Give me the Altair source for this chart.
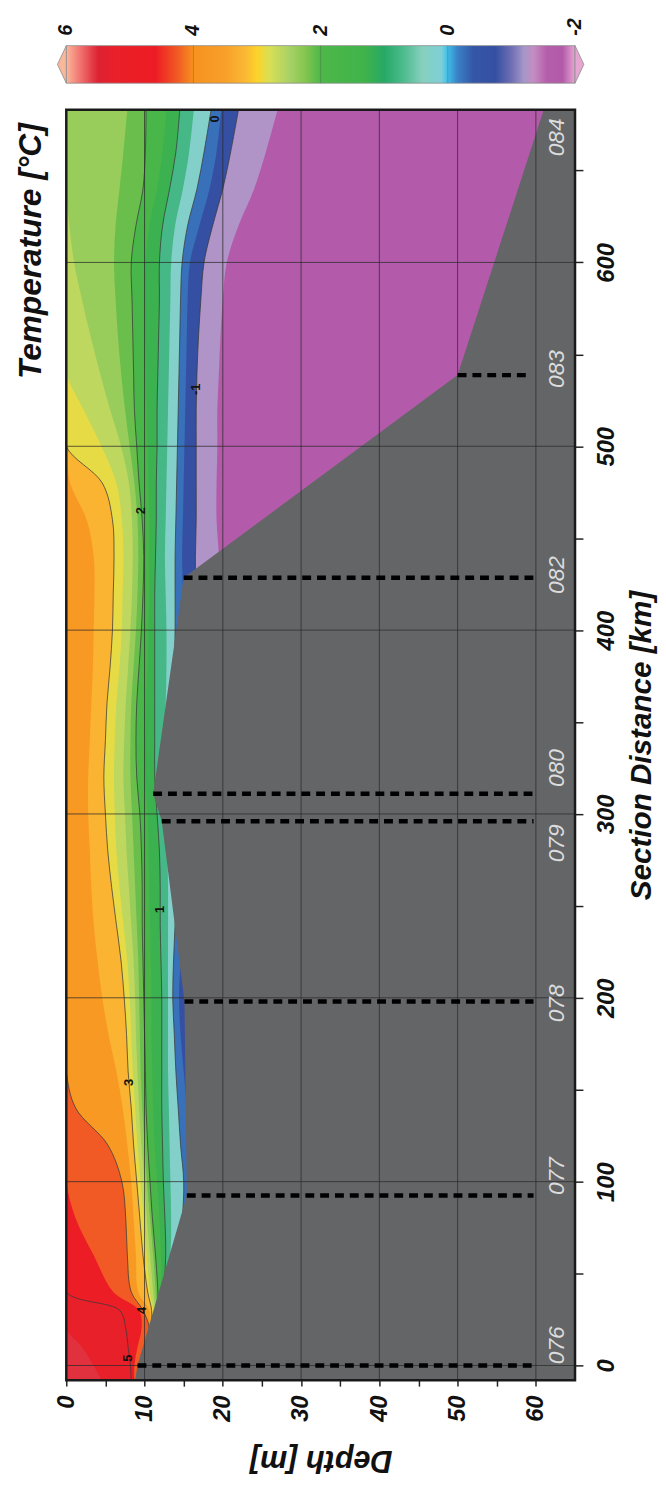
import altair as alt
import pandas as pd

FONT = "Liberation Sans"

# ---------------- axes / domains ----------------
DEPTH_DOMAIN = [0, 65]
DIST_DOMAIN = [-8, 683]
DEPTH_TICKS = [0, 5, 10, 15, 20, 25, 30, 35, 40, 45, 50, 55, 60]
DIST_TICKS = [0, 50, 100, 150, 200, 250, 300, 350, 400, 450, 500, 550, 600, 650]
GRID_DEPTHS = [10, 20, 30, 40, 50, 60]
GRID_DISTS = [0, 100, 200, 300, 400, 500, 600]

# ---------------- temperature field: isotherm depths [m] along the section ----------------
DIST = [-8, 0, 10, 20, 30, 40, 60, 80, 100, 120,
        140, 160, 180, 200, 220, 240, 260, 280, 300, 320,
        340, 360, 380, 400, 420, 440, 460, 480, 500, 520,
        540, 560, 580, 600, 620, 640, 660, 683]

ISO_550 = [4.5, 3.5, 2.0, 0, 0, 0, 0, 0, 0, 0,
           0, 0, 0, 0, 0, 0, 0, 0, 0, 0,
           0, 0, 0, 0, 0, 0, 0, 0, 0, 0,
           0, 0, 0, 0, 0, 0, 0, 0]
ISO_500 = [8.3, 8.2, 7.9, 7.6, 6.8, 0, 0, 0, 0, 0,
           0, 0, 0, 0, 0, 0, 0, 0, 0, 0,
           0, 0, 0, 0, 0, 0, 0, 0, 0, 0,
           0, 0, 0, 0, 0, 0, 0, 0]
ISO_450 = [8.7, 8.7, 9.1, 9.6, 9.3, 6.0, 3.5, 1.2, 0, 0,
           0, 0, 0, 0, 0, 0, 0, 0, 0, 0,
           0, 0, 0, 0, 0, 0, 0, 0, 0, 0,
           0, 0, 0, 0, 0, 0, 0, 0]
ISO_400 = [9.0, 9.3, 10.0, 10.6, 9.8, 8.3, 7.8, 7.6, 7.1, 5.3,
           1.2, 0, 0, 0, 0, 0, 0, 0, 0, 0,
           0, 0, 0, 0, 0, 0, 0, 0, 0, 0,
           0, 0, 0, 0, 0, 0, 0, 0]
ISO_350 = [9.1, 9.4, 10.1, 10.7, 10.6, 9.2, 8.9, 8.6, 8.3, 7.8,
           7.2, 6.4, 5.4, 4.6, 4.0, 3.5, 3.2, 3.0, 2.8, 2.8,
           3.0, 3.2, 3.4, 3.5, 3.6, 3.5, 2.6, 0.5, 0, 0,
           0, 0, 0, 0, 0, 0, 0, 0]
ISO_300 = [9.2, 9.5, 10.2, 10.8, 10.9, 10.4, 9.8, 9.4, 9.0, 8.6,
           8.3, 7.9, 7.7, 7.4, 7.0, 6.4, 5.8, 5.3, 5.0, 4.8,
           5.0, 5.2, 5.6, 5.9, 6.0, 6.1, 5.9, 4.6, 0, 0,
           0, 0, 0, 0, 0, 0, 0, 0]
ISO_275 = [9.3, 9.6, 10.3, 10.9, 11.1, 10.7, 10.3, 9.9, 9.5, 9.1,
           8.8, 8.5, 8.3, 8.1, 7.8, 7.3, 6.8, 6.4, 6.2, 6.1,
           6.2, 6.4, 6.8, 7.1, 7.2, 7.3, 7.1, 6.4, 4.5, 2.2,
           0, 0, 0, 0, 0, 0, 0, 0]
ISO_250 = [9.4, 9.7, 10.4, 11.0, 11.3, 11.1, 10.7, 10.3, 10.0, 9.6,
           9.3, 9.1, 8.9, 8.8, 8.6, 8.3, 8.0, 7.7, 7.5, 7.3,
           7.4, 7.6, 7.9, 8.2, 8.4, 8.5, 8.4, 8.0, 7.0, 5.6,
           4.3, 3.1, 2.0, 1.0, 0.4, 0, 0, 0]
ISO_225 = [9.5, 9.8, 10.5, 11.1, 11.5, 11.4, 11.1, 10.7, 10.3, 10.0,
           9.7, 9.5, 9.4, 9.3, 9.2, 9.0, 8.8, 8.6, 8.4, 8.2,
           8.2, 8.3, 8.6, 8.9, 9.1, 9.2, 9.1, 8.7, 8.1, 7.5,
           7.0, 6.6, 6.3, 6.1, 6.3, 6.8, 7.3, 7.8]
ISO_200 = [9.6, 9.9, 10.6, 11.2, 11.7, 11.7, 11.4, 11.0, 10.7, 10.4,
           10.2, 10.1, 10.0, 9.9, 9.8, 9.7, 9.7, 9.6, 9.4, 9.0,
           8.9, 9.0, 9.3, 9.6, 9.8, 9.9, 9.7, 9.3, 9.0, 8.7,
           8.6, 8.5, 8.4, 8.3, 8.9, 9.8, 10.1, 10.2]
ISO_150 = [9.7, 10.0, 10.7, 11.3, 11.9, 12.1, 12.1, 11.9, 11.6, 11.3,
           11.1, 11.0, 10.9, 10.9, 10.8, 10.7, 10.6, 10.5, 10.4, 10.1,
           10.1, 10.2, 10.4, 10.5, 10.6, 10.6, 10.6, 10.5, 10.4, 10.3,
           10.2, 10.1, 10.1, 10.1, 10.6, 11.6, 12.3, 12.8]
ISO_100 = [9.8, 10.1, 10.8, 11.4, 12.1, 12.4, 12.7, 12.6, 12.4, 12.3,
           12.2, 12.2, 12.2, 12.2, 12.1, 12.0, 12.0, 11.9, 11.6, 11.3,
           11.3, 11.3, 11.3, 11.3, 11.3, 11.4, 11.5, 11.5, 11.6, 11.6,
           11.7, 11.8, 11.9, 11.9, 12.3, 13.2, 14.0, 14.5]
ISO_050 = [9.9, 10.2, 10.9, 11.5, 12.3, 12.7, 13.3, 13.4, 13.3, 13.2,
           13.1, 13.0, 13.0, 13.0, 13.0, 13.0, 13.0, 12.9, 12.6, 12.3,
           12.5, 12.7, 12.8, 12.8, 12.7, 12.6, 12.7, 12.8, 12.9, 13.0,
           13.1, 13.2, 13.3, 13.4, 13.9, 14.9, 15.7, 16.3]
ISO_000 = [10.0, 10.3, 11.0, 11.6, 12.5, 13.0, 14.0, 14.8, 15.0, 14.6,
           14.3, 14.0, 13.8, 13.6, 13.7, 13.9, 14.0, 14.0, 13.5, 13.0,
           13.3, 13.6, 13.8, 13.9, 13.9, 13.9, 14.0, 14.1, 14.2, 14.3,
           14.4, 14.5, 14.6, 14.8, 15.5, 16.7, 17.6, 18.5]
ISO_M050 = [10.1, 10.4, 11.1, 11.7, 12.7, 13.3, 14.5, 15.5, 16.0, 15.8,
            15.4, 15.0, 14.6, 14.4, 14.6, 14.8, 15.0, 15.0, 14.5, 14.0,
            14.2, 14.5, 14.8, 15.0, 14.9, 14.8, 14.9, 15.0, 15.1, 15.2,
            15.3, 15.4, 15.5, 15.8, 17.0, 18.3, 19.2, 19.8]
ISO_M100 = [11.0, 11.2, 12.0, 12.5, 13.5, 14.5, 16.0, 17.0, 17.5, 17.5,
            17.5, 17.0, 16.5, 16.2, 16.5, 16.5, 16.5, 16.0, 15.5, 15.0,
            15.3, 15.6, 16.0, 16.3, 16.5, 16.5, 16.6, 16.6, 16.6, 16.6,
            16.7, 16.9, 17.2, 17.6, 18.7, 20.0, 21.0, 22.0]
ISO_M150 = [12.0, 12.2, 13.0, 13.5, 14.5, 15.5, 17.0, 18.0, 18.5, 18.5,
            18.5, 18.5, 18.5, 18.5, 18.5, 18.5, 18.0, 17.5, 17.0, 16.5,
            17.0, 17.5, 18.0, 18.5, 19.5, 19.5, 19.2, 19.2, 19.3, 19.3,
            19.5, 19.7, 20.0, 20.5, 22.0, 24.0, 25.5, 27.0]

ISO_LEVELS = [5.5, 5.0, 4.5, 4.0, 3.5, 3.0, 2.75, 2.5, 2.25, 2.0,
              1.5, 1.0, 0.5, 0.0, -0.5, -1.0, -1.5]
ISO_DEPTHS = [ISO_550, ISO_500, ISO_450, ISO_400, ISO_350, ISO_300, ISO_275,
              ISO_250, ISO_225, ISO_200, ISO_150, ISO_100, ISO_050, ISO_000,
              ISO_M050, ISO_M100, ISO_M150]
# temperature of the band lying just below each isotherm
BAND_T = [5.25, 4.75, 4.25, 3.75, 3.25, 2.875, 2.625, 2.375, 2.125, 1.75,
          1.25, 0.75, 0.25, -0.25, -0.75, -1.25, -1.75]
SURFACE_T = 5.55

CONTOUR_LEVELS = [5.0, 4.0, 3.0, 2.0, 1.0, 0.0, -1.0]
CONTOUR_LABELS = ["5", "4", "3", "1", "2", "-1", "0"]
CONTOUR_LABEL_DEPTH = [7.9, 9.7, 8.0, 12.0, 9.6, 16.6, 19.0]
CONTOUR_LABEL_DIST = [4, 30, 154, 248, 465, 531, 678]

# ---------------- bathymetry and stations ----------------
BATHY_DIST = [-8, 0, 92.5, 198, 296, 311, 428.5, 538.7, 683]
BATHY_DEPTH = [8.8, 9.1, 15.4, 15.1, 12.2, 11.1, 15.0, 50.0, 61.0]

ST_LINE_DIST = [0, 92.5, 198, 296, 311, 428.5, 538.7]
ST_LINE_TOP = [9.1, 15.4, 15.1, 12.2, 11.1, 15.0, 50.0]
ST_LINE_END = [59.7, 59.7, 59.7, 59.7, 59.7, 59.7, 59.2]

ST_NAMES = ["076", "077", "078", "079", "080", "082", "083", "084"]
ST_LABEL_DIST = [11, 103, 197, 284, 325, 430, 542, 668]
ST_LABEL_DEPTH = [62.7, 62.7, 62.7, 62.7, 62.7, 62.7, 62.7, 62.7]

# ---------------- colour bar ----------------
CB_TICKS = [6, 4, 2, 0, -2]
CB_TICK_LABELS = ["6", "4", "2", "0", "-2"]
CB_T = [-2.0, -1.8, -1.55, -1.35, -1.2, -1.0, -0.75, -0.4, -0.15, 0.0,
        0.1, 0.4, 0.7, 1.0, 1.3, 2.0, 2.25, 2.5, 2.8, 3.0,
        3.2, 3.5, 4.0, 4.25, 4.6, 5.2, 5.5, 5.75, 6.0]
CB_COLORS = ["#e6a6d2", "#b25aa9", "#b55fac", "#c58cc2", "#a697c9", "#6e6fb4", "#3550a2", "#3456a6", "#3a82c6", "#3dbfeb",
             "#7fcfd8", "#86d0bd", "#4cbb8e", "#26a966", "#3fb34a", "#4db848", "#86c650", "#a9d266", "#d8df55", "#fcd32a",
             "#fbb733", "#f8a02a", "#f7921e", "#f15a24", "#ed1c24", "#ea1f28", "#dd2233", "#ef6a6a", "#fbb79a"]

for arr in ISO_DEPTHS:
    assert len(arr) == len(DIST), len(arr)
assert len(CB_T) == len(CB_COLORS)

PLOT_W, PLOT_H = 515, 1286
# colour bar placement above the plot area (pixels from the plot top)
CB_TOP, CB_BOTTOM, CB_LABEL_GAP = -65, -27, 10

TITLE_STYLE = dict(font=FONT, fontStyle="italic", fontWeight="bold")

x_scale = alt.Scale(domain=DEPTH_DOMAIN, nice=False, zero=False)
y_scale = alt.Scale(domain=DIST_DOMAIN, nice=False, zero=False)
c_scale = alt.Scale(domain=CB_T, range=CB_COLORS, interpolate="rgb")

x_axis = alt.Axis(
    orient="bottom", values=DEPTH_TICKS,
    labelExpr="datum.value % 10 === 0 ? datum.label : ''",
    labelAngle=270, labelAlign="right", labelBaseline="middle", labelPadding=9,
    labelFont=FONT, labelFontSize=24, labelFontStyle="italic", labelFontWeight="bold",
    labelColor="#111111", labelFlush=False, labelOverlap=False, labelBound=False,
    tickSize=6, tickWidth=1.5, tickColor="#222222", domain=False, grid=False,
    title="Depth [m]", titleAngle=180, titleBaseline="bottom", titleY=64,
    titleFont=FONT, titleFontSize=31, titleFontStyle="italic", titleFontWeight="bold",
    titleColor="#111111",
)
y_axis = alt.Axis(
    orient="right", values=DIST_TICKS,
    labelExpr="datum.value % 100 === 0 ? datum.label : ''",
    labelAngle=270, labelAlign="center", labelBaseline="top", labelPadding=12,
    labelFont=FONT, labelFontSize=24, labelFontStyle="italic", labelFontWeight="bold",
    labelColor="#111111", labelFlush=False, labelOverlap=False, labelBound=False,
    tickSize=8, tickWidth=1.5, tickColor="#222222", domain=False, grid=False,
    title="Section Distance [km]", titleAngle=270, titleBaseline="top", titleAlign="center",
    titleX=52, titleY=PLOT_H / 2,
    titleFont=FONT, titleFontSize=30, titleFontStyle="italic", titleFontWeight="bold",
    titleColor="#111111",
)

X = lambda f: alt.X(f, scale=x_scale)
Y = lambda f: alt.Y(f, scale=y_scale)

layers = []

# warmest background band (carries the axes)
df_top = pd.DataFrame({"dist": DIST, "depth": [DEPTH_DOMAIN[0]] * len(DIST), "t": SURFACE_T})
layers.append(
    alt.Chart(df_top).mark_area(orient="horizontal", interpolate="catmull-rom", clip=True).encode(
        y=alt.Y("dist:Q", scale=y_scale, axis=y_axis),
        x=alt.X("depth:Q", scale=x_scale, axis=x_axis),
        x2=alt.datum(DEPTH_DOMAIN[1]),
        color=alt.Color("t:Q", scale=c_scale, legend=None),
    )
)
for depths, t in zip(ISO_DEPTHS, BAND_T):
    df = pd.DataFrame({"dist": DIST, "depth": depths, "t": t})
    layers.append(
        alt.Chart(df).mark_area(orient="horizontal", interpolate="catmull-rom", clip=True).encode(
            y=Y("dist:Q"), x=X("depth:Q"),
            x2=alt.datum(DEPTH_DOMAIN[1]),
            color=alt.Color("t:Q", scale=c_scale, legend=None),
        )
    )

# contour lines
rows = []
for lev in CONTOUR_LEVELS:
    depths = ISO_DEPTHS[ISO_LEVELS.index(lev)]
    for d, z in zip(DIST, depths):
        rows.append({"level": str(lev), "dist": d, "depth": z})
df_lines = pd.DataFrame(rows)
layers.append(
    alt.Chart(df_lines).mark_line(interpolate="catmull-rom", clip=True, color="#3a3a3a",
                                  strokeWidth=0.9, opacity=0.85).encode(
        x=X("depth:Q"), y=Y("dist:Q"), detail="level:N", order="dist:Q",
    )
)

# bathymetry
df_bathy = pd.DataFrame({"dist": BATHY_DIST, "depth": BATHY_DEPTH})
layers.append(
    alt.Chart(df_bathy).mark_area(orient="horizontal", color="#646567", clip=True).encode(
        y=Y("dist:Q"), x=X("depth:Q"), x2=alt.datum(DEPTH_DOMAIN[1]),
    )
)

# grid lines
layers.append(
    alt.Chart(pd.DataFrame({"depth": GRID_DEPTHS})).mark_rule(color="#2a2a2a", strokeWidth=1, opacity=0.75).encode(
        x=X("depth:Q")
    )
)
layers.append(
    alt.Chart(pd.DataFrame({"dist": GRID_DISTS})).mark_rule(color="#2a2a2a", strokeWidth=1, opacity=0.75).encode(
        y=Y("dist:Q")
    )
)

# contour labels
df_cl = pd.DataFrame({"label": CONTOUR_LABELS, "depth": CONTOUR_LABEL_DEPTH, "dist": CONTOUR_LABEL_DIST})
layers.append(
    alt.Chart(df_cl).mark_text(angle=270, font=FONT, fontSize=13, fontWeight="bold", color="#111111").encode(
        x=X("depth:Q"), y=Y("dist:Q"), text="label:N",
    )
)

# station dashed lines
df_st = pd.DataFrame({"dist": ST_LINE_DIST, "top": ST_LINE_TOP, "end": ST_LINE_END})
layers.append(
    alt.Chart(df_st).mark_rule(color="#000000", strokeWidth=4.5, strokeDash=[9, 6]).encode(
        y=Y("dist:Q"), x=X("top:Q"), x2="end:Q",
    )
)

# station labels
df_stl = pd.DataFrame({"name": ST_NAMES, "dist": ST_LABEL_DIST, "depth": ST_LABEL_DEPTH})
layers.append(
    alt.Chart(df_stl).mark_text(angle=270, font=FONT, fontSize=23, fontStyle="italic",
                                color="#dcdcdc", align="center", baseline="middle").encode(
        x=X("depth:Q"), y=Y("dist:Q"), text="name:N",
    )
)

# frame
layers.append(
    alt.Chart(pd.DataFrame({"a": [0]})).mark_rect(filled=False, stroke="#1a1a1a", strokeWidth=2.5).encode(
        x=alt.datum(DEPTH_DOMAIN[0]), x2=alt.datum(DEPTH_DOMAIN[1]),
        y=alt.datum(DIST_DOMAIN[0]), y2=alt.datum(DIST_DOMAIN[1]),
    )
)

# chart title (vertical, left)
layers.append(
    alt.Chart(pd.DataFrame({"t": ["Temperature [°C]"]})).mark_text(
        angle=270, fontSize=32, align="center", baseline="middle", color="#111111", **TITLE_STYLE
    ).encode(text="t:N", x=alt.value(-36), y=alt.value(143))
)

main = alt.layer(*layers)

# ---------------- colour bar (own temperature scale, drawn above the plot) ----------------
cb_scale = alt.Scale(domain=[CB_TICKS[0], CB_TICKS[-1]], nice=False, zero=False)
cb_axis = alt.Axis(labels=False, ticks=False, domain=False, grid=False, title=None)
span = CB_TICKS[0] - CB_TICKS[-1]
gradient = {
    "gradient": "linear", "x1": 0, "x2": 1, "y1": 0, "y2": 0,
    "stops": [{"offset": (CB_TICKS[0] - t) / span, "color": c}
              for t, c in zip(reversed(CB_T), reversed(CB_COLORS))],
}
one = pd.DataFrame({"a": [0]})
df_cbt = pd.DataFrame({"v": CB_TICKS, "label": CB_TICK_LABELS})
cb_bar = alt.Chart(one).mark_rect(fill=gradient, stroke="#8c8c8c", strokeWidth=0.8).encode(
    x=alt.datum(CB_TICKS[0]), x2=alt.datum(CB_TICKS[-1]),
    y=alt.value(CB_TOP), y2=alt.value(CB_BOTTOM),
)
cb_left = alt.Chart(one).mark_point(
    shape="M 0 -1 L -0.47 0 L 0 1 Z", size=1444, filled=True, color=CB_COLORS[-1],
    stroke="#8c8c8c", strokeWidth=0.8, opacity=1,
).encode(x=alt.datum(CB_TICKS[0]), y=alt.value((CB_TOP + CB_BOTTOM) / 2))
cb_right = alt.Chart(one).mark_point(
    shape="M 0 -1 L 0.47 0 L 0 1 Z", size=1444, filled=True, color=CB_COLORS[0],
    stroke="#8c8c8c", strokeWidth=0.8, opacity=1,
).encode(x=alt.datum(CB_TICKS[-1]), y=alt.value((CB_TOP + CB_BOTTOM) / 2))
cb_ticks = alt.Chart(df_cbt).transform_filter("datum.v < 6 && datum.v > -2").mark_rule(
    color="#444444", opacity=0.3).encode(
    x=alt.X("v:Q", scale=cb_scale, axis=cb_axis),
    y=alt.value(CB_TOP), y2=alt.value(CB_BOTTOM),
)
cb_labels = alt.Chart(df_cbt).mark_text(
    angle=270, align="left", baseline="middle", font=FONT, fontSize=20,
    fontWeight="bold", fontStyle="italic", color="#111111",
).encode(x=alt.X("v:Q", scale=cb_scale, axis=cb_axis), y=alt.value(CB_TOP - CB_LABEL_GAP), text="label:N")
colorbar = alt.layer(cb_bar, cb_left, cb_right, cb_ticks, cb_labels)

chart = alt.layer(main, colorbar).resolve_scale(x="independent").properties(
    width=PLOT_W, height=PLOT_H,
    autosize=alt.AutoSizeParams(type="none"),
    padding={"left": 59, "top": 94, "right": 84, "bottom": 97},
).configure(font=FONT).configure_view(strokeWidth=0)

chart.save("out.html", embed_options={"renderer": "svg", "actions": False})
